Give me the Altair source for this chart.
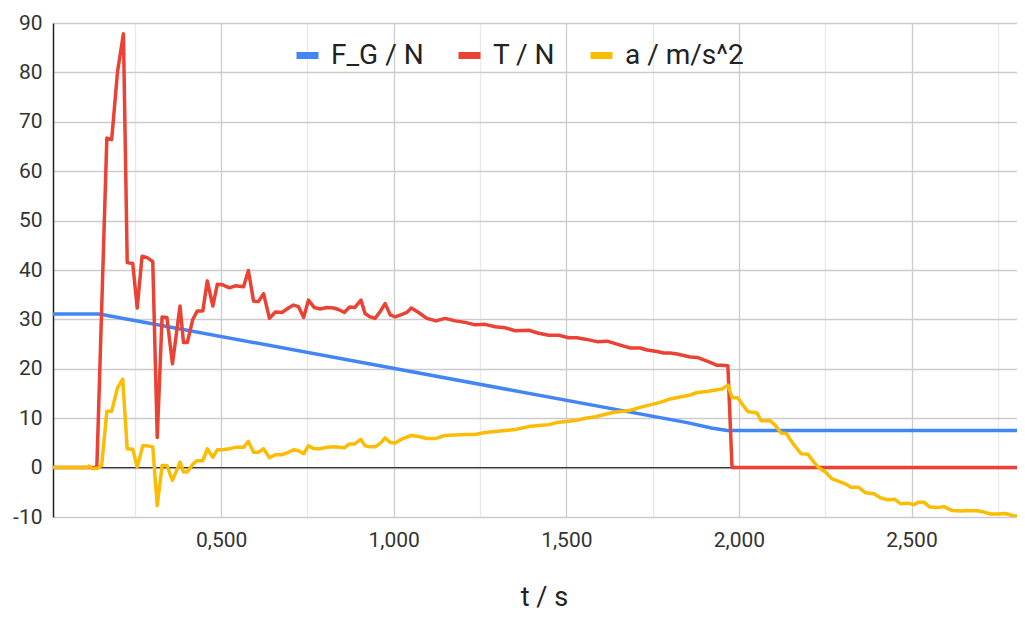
import altair as alt
import pandas as pd

series_names = ["F_G / N", "T / N", "a / m/s^2"]
series_colors = ["#4285F4", "#EA4335", "#FBBC04"]

# F_G / N
t_FG = [0.013, 0.147, 1.85, 1.92, 1.966, 2.82]
FG_vals = [31.1, 31.1, 9.1, 8.0, 7.5, 7.5]

# T / N
t_T = [0.013, 0.14, 0.169, 0.183, 0.200, 0.217, 0.228, 0.244, 0.257, 0.271, 0.286,
       0.302, 0.315, 0.329, 0.343, 0.359, 0.381, 0.391, 0.402, 0.418, 0.431, 0.447,
       0.460, 0.476, 0.489, 0.505, 0.524, 0.541, 0.565, 0.579, 0.594, 0.608, 0.623,
       0.640, 0.657, 0.676, 0.695, 0.710, 0.724, 0.739, 0.753, 0.770, 0.787, 0.806,
       0.826, 0.840, 0.857, 0.872, 0.887, 0.905, 0.917, 0.932, 0.946, 0.961, 0.975,
       0.990, 1.004, 1.024, 1.038, 1.051, 1.072, 1.096, 1.122, 1.149, 1.178, 1.207,
       1.236, 1.265, 1.294, 1.323, 1.352, 1.391, 1.420, 1.449, 1.478, 1.507, 1.531,
       1.555, 1.589, 1.618, 1.642, 1.666, 1.686, 1.714, 1.734, 1.763, 1.782, 1.801,
       1.821, 1.840, 1.859, 1.879, 1.898, 1.917, 1.937, 1.951, 1.968, 1.980, 2.820]
T_vals = [0, 0, 66.7, 66.4, 80.2, 87.8, 41.5, 41.3, 32.3, 42.8, 42.5,
          41.7, 6.1, 30.5, 30.4, 21.0, 32.7, 25.3, 25.3, 30.0, 31.7, 31.7,
          37.8, 32.7, 37.1, 37.0, 36.4, 36.8, 36.6, 39.9, 33.7, 33.6, 35.2,
          30.2, 31.5, 31.4, 32.3, 32.9, 32.6, 30.4, 33.9, 32.4, 32.1, 32.4,
          32.3, 32.0, 31.4, 32.5, 32.4, 33.9, 31.2, 30.5, 30.2, 31.6, 33.2,
          30.9, 30.5, 31.0, 31.4, 32.3, 31.4, 30.2, 29.7, 30.2, 29.7, 29.4,
          28.9, 29.0, 28.5, 28.3, 27.7, 27.8, 27.2, 26.8, 26.8, 26.3, 26.3,
          26.0, 25.5, 25.6, 25.1, 24.6, 24.2, 24.2, 23.8, 23.5, 23.2, 23.2,
          23.0, 22.7, 22.4, 22.3, 21.8, 21.3, 20.7, 20.7, 20.6, 0, 0]

# a / m/s^2
t_a = [0.013, 0.110, 0.118, 0.127, 0.140, 0.154, 0.169, 0.183, 0.200, 0.215, 0.228,
       0.244, 0.257, 0.273, 0.286, 0.302, 0.315, 0.329, 0.343, 0.359, 0.381, 0.391,
       0.402, 0.418, 0.431, 0.447, 0.460, 0.476, 0.489, 0.505, 0.524, 0.541, 0.565,
       0.579, 0.594, 0.608, 0.623, 0.640, 0.657, 0.676, 0.695, 0.710, 0.724, 0.739,
       0.753, 0.770, 0.787, 0.806, 0.826, 0.857, 0.872, 0.887, 0.905, 0.917, 0.932,
       0.946, 0.961, 0.975, 0.990, 1.004, 1.024, 1.051, 1.072, 1.096, 1.122, 1.149,
       1.178, 1.207, 1.236, 1.265, 1.294, 1.323, 1.352, 1.391, 1.420, 1.449, 1.478,
       1.507, 1.531, 1.555, 1.584, 1.608, 1.637, 1.666, 1.686, 1.714, 1.743, 1.772,
       1.801, 1.830, 1.859, 1.879, 1.908, 1.932, 1.951, 1.968, 1.980, 1.997, 2.009,
       2.026, 2.043, 2.053, 2.064, 2.091, 2.106, 2.122, 2.138, 2.154, 2.180, 2.200,
       2.217, 2.232, 2.251, 2.270, 2.289, 2.309, 2.325, 2.347, 2.367, 2.391, 2.410,
       2.430, 2.451, 2.468, 2.488, 2.507, 2.521, 2.536, 2.553, 2.574, 2.594, 2.618,
       2.642, 2.662, 2.690, 2.710, 2.729, 2.749, 2.772, 2.797, 2.820]
a_vals = [0, 0, 0.3, -0.2, -0.2, 0.4, 11.4, 11.4, 16.2, 17.9, 3.8,
          3.7, 0.1, 4.4, 4.4, 4.2, -7.7, 0.4, 0.4, -2.6, 1.1, -0.9,
          -0.9, 0.7, 1.4, 1.4, 3.8, 2.1, 3.6, 3.6, 3.8, 4.1, 4.1,
          5.3, 3.1, 3.1, 3.8, 2.0, 2.6, 2.6, 3.1, 3.6, 3.4, 2.8,
          4.4, 3.8, 3.8, 4.1, 4.2, 4.0, 4.8, 4.8, 5.7, 4.4, 4.2,
          4.2, 4.9, 6.0, 5.1, 5.0, 5.8, 6.5, 6.3, 5.9, 5.9, 6.5,
          6.6, 6.7, 6.7, 7.1, 7.3, 7.5, 7.7, 8.3, 8.5, 8.7, 9.2,
          9.4, 9.6, 10.0, 10.3, 10.7, 11.2, 11.4, 11.6, 12.2, 12.7, 13.2,
          13.9, 14.3, 14.7, 15.2, 15.4, 15.7, 15.9, 16.7, 14.2, 14.1, 12.9,
          11.3, 11.2, 11.0, 9.5, 9.5, 8.5, 7.0, 6.9, 5.1, 2.8, 2.7,
          1.1, -0.1, -0.9, -2.3, -2.8, -3.3, -4.0, -4.0, -5.1, -5.3, -6.1,
          -6.5, -6.4, -7.3, -7.2, -7.5, -7.0, -7.0, -8.0, -8.1, -7.9, -8.7,
          -8.8, -8.7, -8.75, -9.0, -9.4, -9.4, -9.3, -9.8, -9.8]

x_tick_values = [0.25, 0.5, 0.75, 1.0, 1.25, 1.5, 1.75, 2.0, 2.25, 2.5, 2.75]
y_tick_values = [-10, -5, 0, 5, 10, 15, 20, 25, 30, 35, 40, 45, 50, 55, 60, 65, 70, 75, 80, 85, 90]

rows = []
for name, ts, vs in [(series_names[0], t_FG, FG_vals),
                     (series_names[1], t_T, T_vals),
                     (series_names[2], t_a, a_vals)]:
    for t, v in zip(ts, vs):
        rows.append({"t": t, "v": v, "series": name})
df = pd.DataFrame(rows)

zero_df = pd.DataFrame({"v": [0]})

FONT = "Roboto"

x_enc = alt.X(
    "t:Q",
    scale=alt.Scale(domain=[0.013, 2.82], nice=False, zero=False),
    axis=alt.Axis(
        values=x_tick_values,
        title="t / s",
        grid=True,
        gridColor={"condition": {"test": "datum.value % 0.5 === 0", "value": "#cccccc"}, "value": "#e8e8e8"},
        gridWidth=1.3,
        labelExpr="datum.value % 0.5 === 0 ? replace(format(datum.value, '.3f'), '.', ',') : ''",
        domain=False,
        ticks=False,
        labelPadding=12,
        labelFontSize=21,
        labelFont=FONT,
        labelColor="#333333",
        titleFont=FONT,
        titleFontSize=27,
        titleFontWeight="normal",
        titleColor="#222222",
        titleBaseline="alphabetic",
        titleY=88,
        titleX=491,
    ),
)

y_enc = alt.Y(
    "v:Q",
    scale=alt.Scale(domain=[-10, 90], nice=False, zero=False),
    axis=alt.Axis(
        values=y_tick_values,
        title=None,
        grid=True,
        gridColor={"condition": {"test": "datum.value % 10 === 0", "value": "#cccccc"}, "value": "#e8e8e8"},
        gridWidth=1.3,
        labelExpr="datum.value % 10 === 0 ? '' + datum.value : ''",
        domain=True,
        domainColor="#222222",
        domainWidth=1.5,
        ticks=False,
        labelPadding=11,
        labelFontSize=21,
        labelFont=FONT,
        labelColor="#333333",
    ),
)

zero_line = alt.Chart(zero_df).mark_rule(color="#333333", strokeWidth=1.3).encode(
    y=alt.Y("v:Q", scale=alt.Scale(domain=[-10, 90], nice=False, zero=False))
)

lines = alt.Chart(df).mark_line(strokeWidth=3.5, clip=True, strokeJoin="round").encode(
    x=x_enc,
    y=y_enc,
    color=alt.Color(
        "series:N",
        scale=alt.Scale(domain=series_names, range=series_colors),
        legend=alt.Legend(
            orient="none",
            legendX=240,
            legendY=18,
            direction="horizontal",
            title=None,
            symbolType="stroke",
            symbolSize=484,
            symbolStrokeWidth=7,
            labelFontSize=28,
            labelFont=FONT,
            labelColor="#222222",
            labelOffset=9,
            columnPadding=20,
            gridAlign="none",
            padding=0,
            labelLimit=400,
        ),
    ),
)

chart = alt.layer(zero_line, lines).properties(
    width=969,
    height=494,
    padding={"left": 45, "top": 15, "right": -5, "bottom": 94},
    autosize=alt.AutoSizeParams(type="none"),
    background="white",
).configure_view(stroke=None)

chart.save("out.html", embed_options={"renderer": "svg", "actions": False})
